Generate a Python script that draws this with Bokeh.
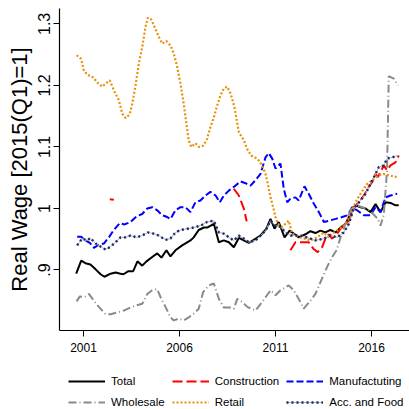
from bokeh.plotting import figure
from bokeh.layouts import column
from bokeh.models import Range1d, FixedTicker, Legend, LegendItem, CustomJSTickFormatter
from bokeh.embed import file_html
from bokeh.resources import INLINE

nan = float("nan")

x_ticks = [2001, 2006, 2011, 2016]
y_ticks = [0.9, 1.0, 1.1, 1.2, 1.3]

total_years = [2000.62, 2000.88, 2001.10, 2001.36, 2001.63, 2001.89, 2002.09, 2002.41, 2002.67, 2002.93,
               2003.08, 2003.34, 2003.59, 2003.81, 2004.06, 2004.28, 2004.58, 2004.84, 2005.06, 2005.32,
               2005.53, 2005.79, 2006.14, 2006.57, 2006.74, 2007.00, 2007.27, 2007.44, 2007.79, 2008.05,
               2008.31, 2008.57, 2008.83, 2009.09, 2009.35, 2009.61, 2009.87, 2010.22, 2010.53, 2010.74,
               2010.95, 2011.17, 2011.47, 2011.74, 2011.95, 2012.21, 2012.56, 2012.82, 2013.08, 2013.34,
               2013.60, 2013.86, 2014.13, 2014.39, 2014.65, 2014.91, 2015.17, 2015.43, 2015.69, 2015.95,
               2016.21, 2016.47, 2016.73, 2016.99, 2017.25, 2017.42]
total_values = [0.894, 0.915, 0.911, 0.909, 0.901, 0.893, 0.889, 0.894, 0.896, 0.894,
                0.893, 0.898, 0.898, 0.914, 0.907, 0.914, 0.921, 0.927, 0.920, 0.932,
                0.922, 0.932, 0.940, 0.948, 0.953, 0.965, 0.969, 0.969, 0.975, 0.945,
                0.948, 0.945, 0.937, 0.952, 0.948, 0.944, 0.949, 0.956, 0.967, 0.983,
                0.967, 0.978, 0.953, 0.964, 0.959, 0.953, 0.958, 0.963, 0.960, 0.964,
                0.961, 0.965, 0.961, 0.969, 0.975, 0.991, 1.005, 1.002, 1.000, 0.994,
                1.007, 0.994, 1.010, 1.009, 1.005, 1.005]

constr_years = [2002.37, 2002.58, nan,
                2008.83, 2009.09, 2009.35, 2009.50, nan,
                2011.78, 2012.04, 2012.39, 2012.73, 2012.99, 2013.20, 2013.43, 2013.60, 2013.78, 2013.95,
                2014.21, 2014.39, 2014.56, 2014.82, 2015.08, 2015.34, 2015.60, 2015.86, 2016.04, 2016.21,
                2016.33, 2016.47, 2016.64, 2016.81, 2016.99, 2017.25, 2017.42]
constr_values = [1.015, 1.014, nan,
                 1.032, 1.021, 1.000, 0.979, nan,
                 0.932, 0.945, 0.945, 0.945, 0.934, 0.929, 0.937, 0.951, 0.958, 0.951,
                 0.959, 0.967, 0.972, 0.980, 1.002, 1.010, 1.021, 1.035, 1.043, 1.056,
                 1.051, 1.059, 1.070, 1.062, 1.070, 1.075, 1.086]

manuf_years = [2000.67, 2000.88, 2001.10, 2001.33, 2001.54, 2001.80, 2002.06, 2002.32, 2002.58, 2002.89,
               2003.14, 2003.45, 2003.76, 2004.06, 2004.32, 2004.58, 2004.84, 2005.10, 2005.36, 2005.53,
               2005.79, 2006.05, 2006.31, 2006.57, 2006.83, 2007.09, 2007.35, 2007.61, 2007.88, 2008.10,
               2008.31, 2008.57, 2008.83, 2009.18, 2009.44, 2009.70, 2009.96, 2010.22, 2010.48, 2010.65,
               2010.83, 2011.00, 2011.26, 2011.43, 2011.61, 2011.78, 2012.04, 2012.21, 2012.51, 2012.73,
               2012.99, 2013.26, 2013.52, 2013.78, 2014.13, 2014.47, 2014.77, 2014.99, 2015.25, 2015.60,
               2015.95, 2016.21, 2016.47, 2016.73, 2016.99, 2017.34]
manuf_values = [0.954, 0.954, 0.948, 0.944, 0.936, 0.941, 0.943, 0.953, 0.965, 0.976,
                0.974, 0.978, 0.987, 0.991, 1.000, 1.002, 0.997, 0.989, 0.986, 0.983,
                0.997, 1.002, 1.002, 0.994, 1.010, 1.013, 1.021, 1.027, 1.021, 1.010,
                1.021, 1.029, 1.035, 1.044, 1.041, 1.037, 1.046, 1.056, 1.083, 1.090,
                1.081, 1.065, 1.073, 1.032, 1.010, 1.016, 1.018, 1.013, 1.036, 1.024,
                1.008, 0.994, 0.978, 0.980, 0.983, 0.986, 0.989, 1.002, 0.997, 0.989,
                0.989, 1.002, 0.994, 1.018, 1.021, 1.024]

whole_years = [2000.64, 2000.81, 2001.05, 2001.28, 2001.54, 2001.80, 2002.15, 2002.41, 2002.76, 2003.10,
               2003.45, 2003.71, 2004.06, 2004.32, 2004.58, 2004.84, 2005.01, 2005.27, 2005.53, 2005.70,
               2005.96, 2006.22, 2006.48, 2006.74, 2007.00, 2007.23, 2007.53, 2007.79, 2008.05, 2008.31,
               2008.66, 2008.83, 2009.01, 2009.27, 2009.53, 2009.96, 2010.31, 2010.74, 2011.00, 2011.26,
               2011.69, 2011.95, 2012.21, 2012.47, 2012.82, 2013.08, 2013.34, 2013.69, 2013.95, 2014.18,
               2014.39, 2014.73, 2014.99, 2015.25, 2015.51, 2015.86, 2016.12, 2016.33, 2016.47, 2016.64,
               2016.81, 2016.90, 2017.16, 2017.39]
whole_values = [0.849, 0.857, 0.856, 0.861, 0.850, 0.840, 0.828, 0.828, 0.831, 0.834,
                0.839, 0.842, 0.845, 0.861, 0.867, 0.869, 0.856, 0.840, 0.823, 0.818,
                0.821, 0.818, 0.823, 0.829, 0.837, 0.864, 0.875, 0.878, 0.853, 0.839,
                0.839, 0.837, 0.853, 0.848, 0.840, 0.834, 0.848, 0.867, 0.859, 0.867,
                0.875, 0.867, 0.853, 0.837, 0.850, 0.861, 0.880, 0.905, 0.921, 0.932,
                0.953, 0.983, 1.002, 1.005, 1.002, 0.997, 0.990, 0.983, 0.972, 0.990,
                1.062, 1.215, 1.211, 1.200]

retail_years = [2000.64, 2000.88, 2001.02, 2001.22, 2001.51, 2001.71, 2001.97, 2002.20, 2002.37, 2002.58,
                2002.84, 2003.02, 2003.20, 2003.40, 2003.54, 2003.71, 2003.88, 2004.06, 2004.23, 2004.35,
                2004.53, 2004.70, 2004.92, 2005.10, 2005.32, 2005.53, 2005.70, 2005.88, 2006.05, 2006.22,
                2006.36, 2006.48, 2006.61, 2006.83, 2007.01, 2007.23, 2007.44, 2007.61, 2007.79, 2007.96,
                2008.14, 2008.31, 2008.48, 2008.66, 2008.86, 2009.09, 2009.35, 2009.52, 2009.73, 2010.05,
                2010.31, 2010.48, 2010.60, 2010.74, 2010.88, 2011.00, 2011.12, 2011.35, 2011.69, 2011.87,
                2012.30, 2012.82, 2013.17, 2013.52, 2013.78, 2013.95, 2014.21, 2014.56, 2014.82, 2015.17,
                2015.43, 2015.78, 2016.12, 2016.38, 2016.64, 2016.90, 2017.16, 2017.34]
retail_values = [1.249, 1.243, 1.224, 1.217, 1.213, 1.205, 1.198, 1.204, 1.208, 1.192,
                 1.176, 1.154, 1.147, 1.153, 1.170, 1.200, 1.235, 1.262, 1.295, 1.310,
                 1.307, 1.295, 1.279, 1.268, 1.272, 1.265, 1.252, 1.230, 1.203, 1.170,
                 1.138, 1.111, 1.100, 1.106, 1.100, 1.102, 1.113, 1.132, 1.148, 1.167,
                 1.184, 1.195, 1.198, 1.187, 1.165, 1.124, 1.111, 1.097, 1.086, 1.081,
                 1.070, 1.056, 1.040, 1.018, 1.002, 0.986, 0.975, 0.970, 0.980, 0.959,
                 0.953, 0.948, 0.953, 0.961, 0.953, 0.959, 0.964, 0.972, 0.983, 1.010,
                 1.024, 1.040, 1.048, 1.054, 1.056, 1.054, 1.052, 1.051]

acc_years = [2000.67, 2000.93, 2001.19, 2001.36, 2001.63, 2001.89, 2002.15, 2002.41, 2002.67, 2002.93,
             2003.19, 2003.45, 2003.76, 2004.06, 2004.35, 2004.66, 2004.92, 2005.27, 2005.53, 2005.79,
             2006.05, 2006.40, 2006.74, 2007.09, 2007.44, 2007.79, 2008.05, 2008.31, 2008.57, 2008.83,
             2009.09, 2009.35, 2009.61, 2009.96, 2010.22, 2010.48, 2010.74, 2011.00, 2011.26, 2011.52,
             2011.78, 2012.04, 2012.30, 2012.82, 2013.08, 2013.52, 2013.86, 2014.21, 2014.56, 2014.82,
             2015.08, 2015.43, 2015.69, 2015.95, 2016.21, 2016.38, 2016.64, 2016.81, 2017.08, 2017.34]
acc_values = [0.940, 0.951, 0.948, 0.952, 0.943, 0.938, 0.933, 0.938, 0.945, 0.953,
              0.953, 0.956, 0.953, 0.956, 0.961, 0.959, 0.956, 0.949, 0.951, 0.961,
              0.965, 0.967, 0.969, 0.972, 0.978, 0.980, 0.961, 0.959, 0.953, 0.948,
              0.956, 0.951, 0.945, 0.948, 0.956, 0.964, 0.980, 0.972, 0.970, 0.961,
              0.956, 0.956, 0.956, 0.951, 0.948, 0.951, 0.956, 0.953, 0.961, 0.975,
              1.000, 1.013, 1.024, 1.040, 1.056, 1.067, 1.070, 1.081, 1.083, 1.086]

series_labels = ["Total", "Construction", "Manufactuting", "Wholesale", "Retail", "Acc. and Food"]

SANS = "'Liberation Sans', Arial, sans-serif"

STYLES = {
    "Total": dict(line_color="black", line_width=2),
    "Construction": dict(line_color="#FF0000", line_width=2, line_dash="10 4"),
    "Manufactuting": dict(line_color="#0000FF", line_width=2, line_dash="7 3"),
    "Wholesale": dict(line_color="#8A8A8A", line_width=2, line_dash="8 3 1 3"),
    "Retail": dict(line_color="#E8900A", line_width=2.2, line_dash="2 2"),
    "Acc. and Food": dict(line_color="#1C2A5C", line_width=2.4, line_dash="2 3"),
}
ACC_BASE = dict(line_color="#A9B0C4", line_width=1)

p = figure(width=409, height=356, output_backend="svg", toolbar_location=None,
           x_range=Range1d(1999.75, 2017.98), y_range=Range1d(0.8016, 1.325),
           min_border_left=59, min_border_right=0, min_border_top=8, min_border_bottom=26)
p.outline_line_color = None
p.grid.visible = False
p.background_fill_color = "white"
p.border_fill_color = "white"

# x axis
p.xaxis.ticker = FixedTicker(ticks=x_ticks, minor_ticks=[])
p.xaxis.major_tick_out = 6
p.xaxis.major_tick_in = 0
p.xaxis.major_label_standoff = 6
p.xaxis.major_label_text_font = SANS
p.xaxis.major_label_text_font_size = "12px"
p.xaxis.major_label_text_color = "black"
p.xaxis.axis_line_color = "black"
p.xaxis.axis_line_width = 1.2
p.xaxis.major_tick_line_color = "black"

# y axis
p.yaxis.ticker = FixedTicker(ticks=y_ticks, minor_ticks=[])
p.yaxis.formatter = CustomJSTickFormatter(
    code="var s = tick.toFixed(1); s = s.replace(/\\.0$/, ''); return s.replace(/^0/, '');")
p.yaxis.major_label_orientation = "vertical"
p.yaxis.major_tick_out = 6
p.yaxis.major_tick_in = 0
p.yaxis.major_label_standoff = 3
p.yaxis.major_label_text_font = SANS
p.yaxis.major_label_text_font_size = "16px"
p.yaxis.major_label_text_color = "black"
p.yaxis.axis_line_color = "black"
p.yaxis.axis_line_width = 1.2
p.yaxis.major_tick_line_color = "black"
p.yaxis.axis_label = "Real Wage [2015(Q1)=1]"
p.yaxis.axis_label_text_font = SANS
p.yaxis.axis_label_text_font_size = "22px"
p.yaxis.axis_label_text_font_style = "normal"
p.yaxis.axis_label_text_color = "black"
p.yaxis.axis_label_standoff = 4

p.line(total_years, total_values, **STYLES["Total"])
p.line(constr_years, constr_values, **STYLES["Construction"])
p.line(manuf_years, manuf_values, **STYLES["Manufactuting"])
p.line(whole_years, whole_values, **STYLES["Wholesale"])
p.line(retail_years, retail_values, **STYLES["Retail"])
p.line(acc_years, acc_values, **ACC_BASE)
p.line(acc_years, acc_values, **STYLES["Acc. and Food"])

# legend strip (separate figure holding only legend samples)
lg = figure(width=409, height=53, output_backend="svg", toolbar_location=None,
            x_range=Range1d(0, 1), y_range=Range1d(0, 1),
            x_axis_location=None, y_axis_location=None,
            min_border_left=0, min_border_right=0, min_border_top=0, min_border_bottom=0)
lg.outline_line_color = None
lg.grid.visible = False
lg.border_fill_color = "white"

handles = {}
for name in series_labels:
    rs = []
    if name == "Acc. and Food":
        rs.append(lg.line([nan], [nan], **ACC_BASE))
    rs.append(lg.line([nan], [nan], **STYLES[name]))
    handles[name] = rs

order = ["Total", "Wholesale", "Construction", "Retail", "Manufactuting", "Acc. and Food"]
legend = Legend(
    items=[LegendItem(label=n, renderers=handles[n]) for n in order],
    orientation="vertical", nrows=2,
    location=(9, 0),
    border_line_color=None, background_fill_alpha=0,
    padding=0, margin=0, spacing=7,
    glyph_width=37, glyph_height=14, label_height=14, label_standoff=6,
    label_text_font=SANS, label_text_font_size="11.5px", label_text_color="black",
)
lg.add_layout(legend, "center")

layout = column(p, lg, spacing=0)
open("out.html", "w").write(file_html(layout, INLINE))
